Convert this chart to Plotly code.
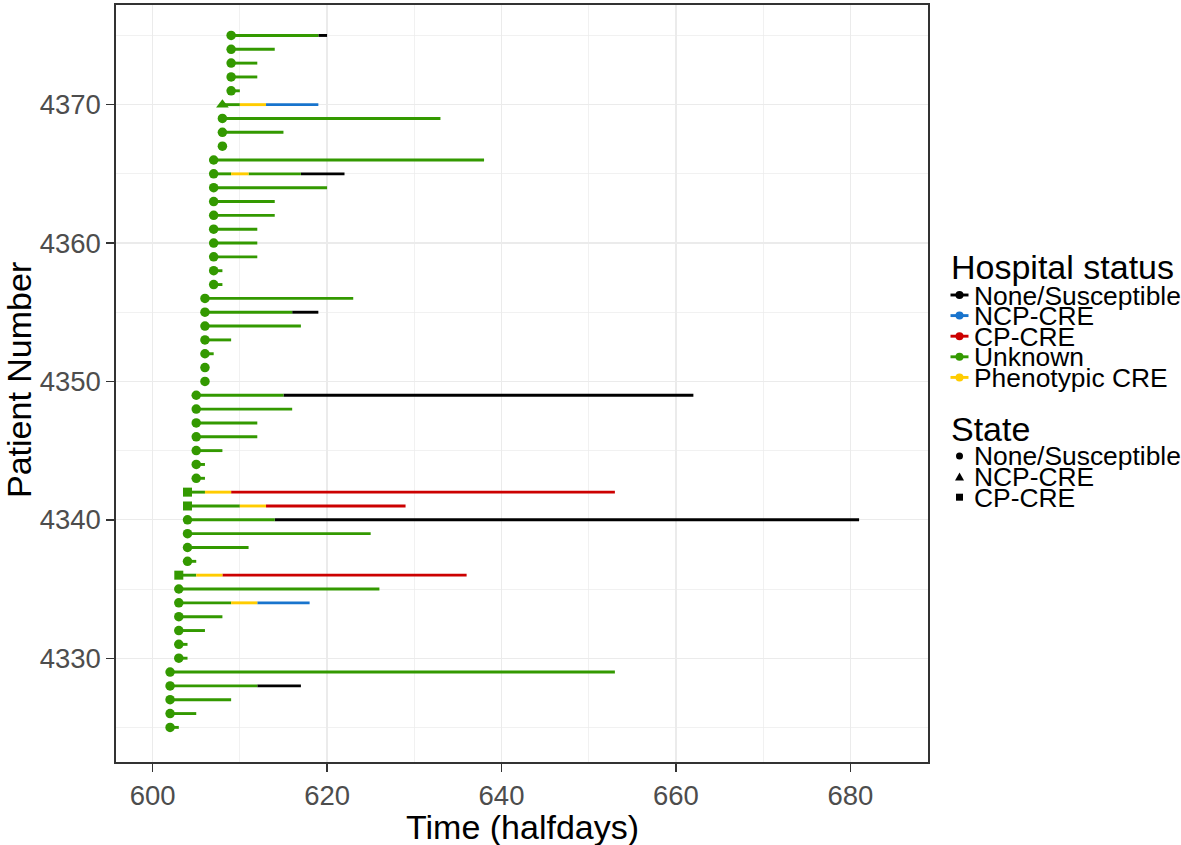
import plotly.graph_objects as go

# ---------------- data ----------------
patients = list(range(4325, 4376))
start_time = [602, 602, 602, 602, 602,
              603, 603, 603, 603, 603, 603, 603,
              604, 604, 604, 604, 604, 604,
              605, 605, 605, 605, 605, 605, 605,
              606, 606, 606, 606, 606, 606, 606,
              607, 607, 607, 607, 607, 607, 607, 607, 607, 607,
              608, 608, 608, 608,
              609, 609, 609, 609, 609]
patient_state = ["None/Susceptible"] * len(patients)
for pid, st in [(4336, "CP-CRE"), (4341, "CP-CRE"), (4342, "CP-CRE"), (4370, "NCP-CRE")]:
    patient_state[patients.index(pid)] = st

# segments: patient, from, to, hospital status
seg_patient = [4325, 4326, 4327, 4328, 4328, 4329,
               4330, 4331, 4332, 4333, 4334, 4334, 4334, 4335, 4336, 4336, 4336,
               4337, 4338, 4339, 4340, 4340, 4341, 4341, 4341, 4342, 4342, 4342,
               4343, 4344, 4345, 4346, 4347, 4348, 4349, 4349,
               4352, 4353, 4354, 4355, 4355, 4356,
               4357, 4358, 4359, 4360, 4361, 4362, 4363, 4364, 4365, 4365, 4365, 4365, 4366,
               4368, 4369, 4370, 4370, 4370,
               4371, 4372, 4373, 4374, 4375, 4375]
seg_from = [602, 602, 602, 602, 612, 602,
            603, 603, 603, 603, 603, 609, 612, 603, 603, 605, 608,
            604, 604, 604, 604, 614, 604, 610, 613, 604, 606, 609,
            605, 605, 605, 605, 605, 605, 605, 615,
            606, 606, 606, 606, 616, 606,
            607, 607, 607, 607, 607, 607, 607, 607, 607, 609, 611, 617, 607,
            608, 608, 608, 610, 613,
            609, 609, 609, 609, 609, 619]
seg_to = [603, 605, 609, 612, 617, 653,
          604, 604, 606, 608, 609, 612, 618, 626, 605, 608, 636,
          605, 611, 625, 614, 681, 610, 613, 629, 606, 609, 653,
          606, 606, 608, 612, 612, 616, 615, 662,
          607, 609, 617, 616, 619, 623,
          608, 608, 612, 612, 612, 614, 614, 620, 609, 611, 617, 622, 638,
          615, 633, 610, 613, 619,
          610, 612, 612, 614, 619, 620]
seg_status = ["Unknown", "Unknown", "Unknown", "Unknown", "None/Susceptible", "Unknown",
              "Unknown", "Unknown", "Unknown", "Unknown", "Unknown", "Phenotypic CRE", "NCP-CRE",
              "Unknown", "Unknown", "Phenotypic CRE", "CP-CRE",
              "Unknown", "Unknown", "Unknown", "Unknown", "None/Susceptible",
              "Unknown", "Phenotypic CRE", "CP-CRE", "Unknown", "Phenotypic CRE", "CP-CRE",
              "Unknown", "Unknown", "Unknown", "Unknown", "Unknown", "Unknown", "Unknown", "None/Susceptible",
              "Unknown", "Unknown", "Unknown", "Unknown", "None/Susceptible", "Unknown",
              "Unknown", "Unknown", "Unknown", "Unknown", "Unknown", "Unknown", "Unknown", "Unknown",
              "Unknown", "Phenotypic CRE", "Unknown", "None/Susceptible", "Unknown",
              "Unknown", "Unknown", "Unknown", "Phenotypic CRE", "NCP-CRE",
              "Unknown", "Unknown", "Unknown", "Unknown", "Unknown", "None/Susceptible"]

status_levels = ["None/Susceptible", "NCP-CRE", "CP-CRE", "Unknown", "Phenotypic CRE"]
status_colors = ["#000000", "#1874CD", "#CC0000", "#339900", "#FFCC00"]
state_levels = ["None/Susceptible", "NCP-CRE", "CP-CRE"]
state_symbols = ["circle", "triangle-up", "square"]
state_sizes = [9.5, 11, 9]

x_ticks = [600, 620, 640, 660, 680]
y_ticks = [4330, 4340, 4350, 4360, 4370]

# ---------------- figure ----------------
W, H = 1181, 845
ML, MR, MT, MB = 116, 253, 5, 83
PW, PH = W - ML - MR, H - MT - MB

fig = go.Figure()

for lvl, col in zip(status_levels, status_colors):
    xs, ys = [], []
    for p, a, b, s in zip(seg_patient, seg_from, seg_to, seg_status):
        if s == lvl:
            xs += [a, b, None]
            ys += [p, p, None]
    fig.add_trace(go.Scatter(x=xs, y=ys, mode="lines", line=dict(color=col, width=2.9),
                             showlegend=False, hoverinfo="skip"))

for lvl, sym, sz in zip(state_levels, state_symbols, state_sizes):
    xs = [t for t, s in zip(start_time, patient_state) if s == lvl]
    ys = [p for p, s in zip(patients, patient_state) if s == lvl]
    fig.add_trace(go.Scatter(x=xs, y=ys, mode="markers",
                             marker=dict(color="#339900", symbol=sym, size=sz, line=dict(width=0)),
                             showlegend=False))

grid = "#EBEBEB"
axis_common = dict(showline=True, mirror=True, linecolor="#333333", linewidth=1.6,
                   ticks="outside", ticklen=8, tickwidth=1.4, tickcolor="#333333",
                   showgrid=True, gridcolor=grid, gridwidth=1.3, zeroline=False, automargin=False,
                   tickfont=dict(family="Liberation Sans, Arial", size=27.5, color="#4D4D4D"))

fig.update_xaxes(range=[595.8, 688.9], tickvals=x_ticks,
                 minor=dict(tickvals=[610, 630, 650, 670], showgrid=True, gridcolor=grid, gridwidth=0.7, ticks=""),
                 **axis_common)
fig.update_yaxes(range=[4322.5, 4377.2], tickvals=y_ticks,
                 minor=dict(tickvals=[4325, 4335, 4345, 4355, 4365, 4375], showgrid=True, gridcolor=grid,
                            gridwidth=0.7, ticks=""),
                 **axis_common)

# ---------------- manual legend & axis titles ----------------
def px_x(px):
    return (px - ML) / PW

def px_y(py):
    return (H - MB - py) / PH

shapes = []
annotations = []
font_lab = dict(family="Liberation Sans, Arial", size=26.4, color="#000000")
font_tit = dict(family="Liberation Sans, Arial", size=34, color="#000000")

annotations.append(dict(x=0.5, y=px_y(827), xref="paper", yref="paper", text="Time (halfdays)",
                        showarrow=False, xanchor="center", yanchor="middle", font=font_tit, borderpad=0))
annotations.append(dict(x=px_x(19), y=px_y(380), xref="paper", yref="paper", text="Patient Number",
                        showarrow=False, xanchor="center", yanchor="middle", textangle=-90, font=font_tit,
                        borderpad=0))

key_cx = 959.5
text_x = 972
annotations.append(dict(x=px_x(948.5), y=px_y(267), xref="paper", yref="paper", text="Hospital status",
                        showarrow=False, xanchor="left", yanchor="middle", font=font_tit))
for i, (lvl, col) in enumerate(zip(status_levels, status_colors)):
    cy = 295 + i * 20.6
    shapes.append(dict(type="line", xref="paper", yref="paper", x0=px_x(950.5), x1=px_x(968.5),
                       y0=px_y(cy), y1=px_y(cy), line=dict(color=col, width=2.9)))
    shapes.append(dict(type="circle", xref="paper", yref="paper", xsizemode="pixel", ysizemode="pixel",
                       xanchor=px_x(key_cx), yanchor=px_y(cy), x0=-4, x1=4, y0=-4, y1=4,
                       fillcolor=col, line=dict(width=0)))
    annotations.append(dict(x=px_x(text_x), y=px_y(cy + 0.5), xref="paper", yref="paper", text=lvl,
                            showarrow=False, xanchor="left", yanchor="middle", font=font_lab))

annotations.append(dict(x=px_x(948.5), y=px_y(429), xref="paper", yref="paper", text="State",
                        showarrow=False, xanchor="left", yanchor="middle", font=font_tit))
for i, lvl in enumerate(state_levels):
    cy = 456 + i * 20.6
    if i == 0:
        shapes.append(dict(type="circle", xref="paper", yref="paper", xsizemode="pixel", ysizemode="pixel",
                           xanchor=px_x(key_cx), yanchor=px_y(cy), x0=-3.5, x1=3.5, y0=-3.5, y1=3.5,
                           fillcolor="#000000", line=dict(width=0)))
    elif i == 1:
        shapes.append(dict(type="path", xref="paper", yref="paper", xsizemode="pixel", ysizemode="pixel",
                           xanchor=px_x(key_cx), yanchor=px_y(cy), path="M -4.5 -3.8 L 4.5 -3.8 L 0 4.2 Z",
                           fillcolor="#000000", line=dict(width=0)))
    else:
        shapes.append(dict(type="rect", xref="paper", yref="paper", xsizemode="pixel", ysizemode="pixel",
                           xanchor=px_x(key_cx), yanchor=px_y(cy), x0=-3.5, x1=3.5, y0=-3.5, y1=3.5,
                           fillcolor="#000000", line=dict(width=0)))
    annotations.append(dict(x=px_x(text_x), y=px_y(cy + 0.5), xref="paper", yref="paper", text=lvl,
                            showarrow=False, xanchor="left", yanchor="middle", font=font_lab))

fig.update_layout(width=W, height=H, margin=dict(l=ML, r=MR, t=MT, b=MB, autoexpand=False),
                  paper_bgcolor="white", plot_bgcolor="white",
                  shapes=shapes, annotations=annotations, showlegend=False,
                  font=dict(family="Liberation Sans, Arial"))

fig.write_html("out.html", config={"displayModeBar": False, "staticPlot": True},
               post_script="document.body.style.margin='0';document.body.style.padding='0';"
                           "document.body.style.overflow='hidden';")
